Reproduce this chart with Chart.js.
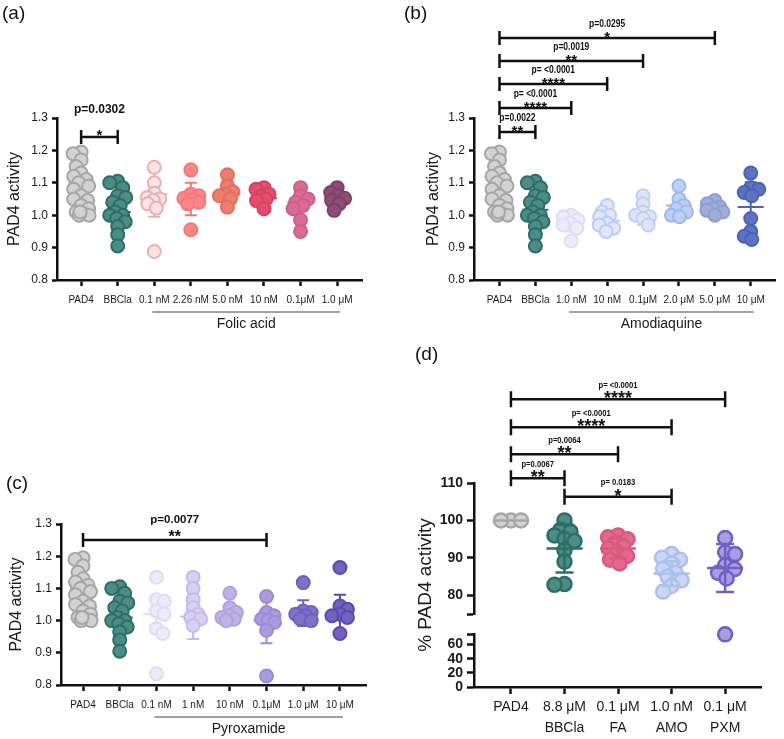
<!DOCTYPE html>
<html>
<head>
<meta charset="utf-8">
<script src="https://cdn.jsdelivr.net/npm/chart.js@4.4.1/dist/chart.umd.min.js"></script>
<style>
  body { margin: 0; background: #fff; width: 784px; height: 739px; position: relative; overflow: hidden; font-family: 'Liberation Sans', Arial, sans-serif; }
  canvas { position: absolute; }
  .lbl { position: absolute; font-size: 19px; line-height: 19px; color: #111; }
</style>
</head>
<body>
<canvas id="ca" width="392" height="340" style="left:0;top:0;width:392px;height:340px"></canvas>
<canvas id="cb" width="392" height="340" style="left:392px;top:0;width:392px;height:340px"></canvas>
<canvas id="cc" width="392" height="339" style="left:0;top:400px;width:392px;height:339px"></canvas>
<canvas id="cd" width="392" height="399" style="left:392px;top:340px;width:392px;height:399px"></canvas>
<div class="lbl" style="left:2px;top:3px">(a)</div>
<div class="lbl" style="left:404px;top:3px">(b)</div>
<div class="lbl" style="left:6px;top:473px">(c)</div>
<div class="lbl" style="left:415px;top:344px">(d)</div>
<script>
// カテゴリ
const catsA = ['PAD4', 'BBCla', '0.1 nM', '2.26 nM', '5.0 nM', '10 nM', '0.1μM', '1.0 μM'];
const catsB = ['PAD4', 'BBCla', '1.0 nM', '10 nM', '0.1μM', '2.0 μM', '5.0 μM', '10 μM'];
const catsC = ['PAD4', 'BBCla', '0.1 nM', '1 nM', '10 nM', '0.1μM', '1.0 μM', '10 μM'];
const catsD = ['PAD4', ['8.8 μM', 'BBCla'], ['0.1 μM', 'FA'], ['1.0 nM', 'AMQ'], ['0.1 μM', 'PXM']];

// 目盛り
const yTicksABC = [0.8, 0.9, 1.0, 1.1, 1.2, 1.3];
const yTicksDTop = [80, 90, 100, 110];
const yTicksDLow = [0, 20, 40, 60];
const breakD = 75;

// 値 (a)(b)(c)
const pad4Vals = [1.195, 1.19, 1.17, 1.15, 1.13, 1.12, 1.11, 1.10, 1.09, 1.08, 1.06, 1.05, 1.045, 1.03, 1.02, 1.01, 1.005, 1.0, 1.0, 1.01];
const bbclaVals = [1.105, 1.10, 1.085, 1.06, 1.055, 1.04, 1.03, 1.01, 1.0, 1.0, 0.99, 0.98, 0.965, 0.94, 0.905];
const folicVals = [
  [1.148, 1.10, 1.068, 1.055, 1.05, 1.045, 1.035, 1.022, 0.888],
  [1.14, 1.065, 1.06, 1.052, 1.048, 1.04, 1.035, 0.955],
  [1.125, 1.09, 1.072, 1.065, 1.06, 1.05, 1.025],
  [1.085, 1.08, 1.065, 1.058, 1.05, 1.045, 1.02],
  [1.085, 1.06, 1.05, 1.04, 1.03, 1.02, 0.985, 0.95],
  [1.085, 1.07, 1.06, 1.052, 1.045, 1.035, 1.015]
];
const amodiaquineVals = [
  [1.0, 0.995, 0.985, 0.975, 0.97, 0.96, 0.92],
  [1.03, 1.01, 1.0, 0.995, 0.975, 0.97, 0.96, 0.95],
  [1.06, 1.035, 1.01, 1.0, 0.995, 0.99, 0.97],
  [1.09, 1.05, 1.03, 1.02, 1.01, 1.0, 0.995],
  [1.045, 1.035, 1.025, 1.02, 1.015, 1.01, 1.0],
  [1.13, 1.085, 1.08, 1.07, 1.06, 0.99, 0.95, 0.935, 0.925]
];
const pyroxamideVals = [
  [1.135, 1.065, 1.06, 1.03, 1.02, 0.975, 0.96, 0.835],
  [1.135, 1.10, 1.065, 1.04, 1.02, 1.01, 1.005, 0.985],
  [1.085, 1.04, 1.025, 1.015, 1.01, 1.005, 1.0],
  [1.075, 1.025, 1.015, 1.005, 1.0, 0.995, 0.97, 0.828],
  [1.118, 1.03, 1.025, 1.02, 1.015, 1.005, 1.0],
  [1.165, 1.045, 1.035, 1.02, 1.015, 1.01, 0.96]
];
const meansA = [1.10, 1.01, 1.065, 1.05, 1.07, 1.052, 1.04, 1.052];
const sdsA = [0.065, 0.06, 0.07, 0.05, 0.035, 0.022, 0.045, 0.025];
const meansB = [1.08, 1.017, 0.975, 0.983, 1.0, 1.03, 1.017, 1.025];
const sdsB = [0.065, 0.06, 0.025, 0.027, 0.03, 0.032, 0.015, 0.077];
const meansC = [1.10, 1.01, 1.02, 1.013, 1.013, 1.0, 1.023, 1.02];
const sdsC = [0.065, 0.06, 0.047, 0.07, 0.028, 0.07, 0.04, 0.06];

// 値 (d) %
const pad4Pct = [100, 100, 100];
const bbclaPct = [100, 97.5, 97, 96, 95, 94.5, 92, 89, 83, 82.8];
const faPct = [96, 95.5, 95, 94, 93, 92.5, 91.5, 90.5, 89.5, 88.5];
const amqPct = [91, 90, 89.5, 88.5, 87, 86, 85, 84, 82.5, 81];
const pxmPct = [95.3, 91.5, 91, 88, 87, 86, 84.5, 74.5];
const meansD = [100, 92.5, 92.5, 85.8, 87.3];
const sdsD = [0, 6.4, 2.6, 3.3, 6.4];

// 有意差 [from, to, p, stars]
const sigA = [[0, 1, 'p=0.0302', '*']];
const sigB = [[0, 1, 'p=0.0022', '**'], [0, 2, 'p= <0.0001', '****'], [0, 3, 'p= <0.0001', '****'], [0, 4, 'p=0.0019', '**'], [0, 6, 'p=0.0295', '*']];
const sigC = [[0, 5, 'p=0.0077', '**']];
const sigD = [[0, 4, 'p= <0.0001', '****'], [0, 3, 'p= <0.0001', '****'], [0, 2, 'p=0.0064', '**'], [0, 1, 'p=0.0067', '**'], [1, 3, 'p= 0.0183', '*']];
// ブラケットの高さ (軸の単位)
const levA = [1.241];
const levB = [1.257, 1.331, 1.405, 1.476, 1.547];
const levC = [1.25];
const levD = [132.4, 124.9, 117.7, 111.3, 106.3];

// 色
const grayFill = '#d2d2d2', grayEdge = '#a6a6a6', tealFill = '#4b8d86', tealEdge = '#2d6e66';
const fillsA = [grayFill, tealFill, '#fce3e3', '#ff8686', '#ec7d6f', '#e34e6e', '#d96c93', '#8d4d75'];
const edgesA = [grayEdge, tealEdge, '#e9b0b0', '#f67878', '#e46f61', '#d94163', '#cf5e88', '#7f4169'];
const fillsB = [grayFill, tealFill, '#ececfb', '#e1e8fb', '#dfe5f8', '#bcd0f6', '#9fadda', '#5b73c1'];
const edgesB = [grayEdge, tealEdge, '#dedef6', '#bccdf5', '#c2d0f1', '#9fb9ef', '#8e9ed2', '#4b63b6'];
const fillsC = [grayFill, tealFill, '#eeeafa', '#d8d0f2', '#bfb3e6', '#ab9bde', '#8170c8', '#7262c1'];
const edgesC = [grayEdge, tealEdge, '#e0daf5', '#c6bbeb', '#b1a3df', '#9c8bd6', '#7060bf', '#5b4aae'];
const fillsD = [grayFill, tealFill, '#e3688b', '#cbd6f2', '#aa9ce3'];
const edgesD = [grayEdge, tealEdge, '#d9597f', '#adc0eb', '#7060c2'];

const FONT = "'Liberation Sans', Arial, sans-serif";
Chart.defaults.font.family = FONT;
Chart.defaults.color = '#1a1a1a';

function xAxis(cats, min, max, o) {
  return {
    type: 'linear', position: 'bottom', min: min, max: max,
    afterBuildTicks: s => { s.ticks = cats.map((c, i) => ({ value: i })); },
    afterFit: s => { s.height = o.h; },
    ticks: { callback: v => cats[Math.round(v)], autoSkip: false, maxRotation: 0, minRotation: 0, padding: o.pad, color: '#1a1a1a', font: { size: o.fs, lineHeight: o.lh || 1.2 } },
    grid: { display: true, drawOnChartArea: false, drawTicks: true, tickLength: o.tl, tickWidth: o.lw, tickColor: '#111' },
    border: { display: true, color: '#111', width: o.lw }
  };
}

function yAxis(o) {
  return {
    type: 'linear', position: 'left', min: o.min, max: o.max, weight: o.weight || 0,
    stack: o.stack, stackWeight: o.sw || 1,
    afterBuildTicks: s => { s.ticks = o.ticks.map(v => ({ value: v })); },
    afterFit: s => { s.width = o.w; },
    ticks: { callback: o.fmt, autoSkip: false, color: '#1a1a1a', padding: o.pad, font: o.font },
    grid: { display: true, drawOnChartArea: false, drawTicks: true, tickLength: o.tl, tickWidth: o.lw, tickColor: '#111' },
    border: { display: true, color: '#111', width: o.lw },
    title: o.title ? { display: true, text: o.title, color: '#1a1a1a', font: { size: o.ts }, padding: { top: 5, bottom: 0 } } : { display: false }
  };
}

// 平均線とSD
function drawStats(chart, cfg) {
  const ctx = chart.ctx, xs = chart.scales.x, ys = chart.scales[cfg.yId];
  ctx.save();
  ctx.lineWidth = cfg.statLw;
  cfg.means.forEach((m, i) => {
    const x = xs.getPixelForValue(i), y = ys.getPixelForValue(m);
    const y1 = ys.getPixelForValue(m + cfg.sds[i]), y2 = ys.getPixelForValue(m - cfg.sds[i]);
    ctx.strokeStyle = cfg.edges[i];
    ctx.beginPath();
    ctx.moveTo(x - cfg.half, y); ctx.lineTo(x + cfg.half, y);
    if (cfg.sds[i] > 0) {
      ctx.moveTo(x, y1); ctx.lineTo(x, y2);
      ctx.moveTo(x - cfg.cap, y1); ctx.lineTo(x + cfg.cap, y1);
      ctx.moveTo(x - cfg.cap, y2); ctx.lineTo(x + cfg.cap, y2);
    }
    ctx.stroke();
  });
  ctx.restore();
}

// 有意差ブラケット
function drawSig(chart, cfg) {
  const ctx = chart.ctx, xs = chart.scales.x, ys = chart.scales[cfg.yId];
  const s = cfg.sigStyle;
  cfg.sig.forEach((b, k) => {
    const x1 = xs.getPixelForValue(b[0]), x2 = xs.getPixelForValue(b[1]);
    const y = ys.getPixelForValue(cfg.levels[k]);
    const cx = (x1 + x2) / 2;
    ctx.save();
    ctx.strokeStyle = '#111';
    ctx.lineWidth = 2.5;
    ctx.beginPath();
    ctx.moveTo(x1, y); ctx.lineTo(x2, y);
    ctx.moveTo(x1, y - s.tick); ctx.lineTo(x1, y + s.tick);
    ctx.moveTo(x2, y - s.tick); ctx.lineTo(x2, y + s.tick);
    ctx.stroke();
    ctx.fillStyle = '#111';
    ctx.textAlign = 'center';
    ctx.textBaseline = 'middle';
    ctx.font = 'bold ' + s.pSize + 'px ' + FONT;
    ctx.translate(cx, y - s.pOff);
    ctx.scale(s.squeeze, 1);
    ctx.fillText(b[2], 0, 0);
    ctx.restore();
    ctx.save();
    ctx.fillStyle = '#111';
    ctx.textAlign = 'center';
    ctx.textBaseline = 'alphabetic';
    ctx.font = 'bold ' + s.starSize + 'px ' + FONT;
    ctx.fillText(b[3], cx, y + s.starOff);
    ctx.restore();
  });
}

// 薬剤名の下線
function drawGroup(chart, cfg) {
  if (!cfg.group) return;
  const ctx = chart.ctx, xs = chart.scales.x, yb = chart.chartArea.bottom;
  const x1 = xs.getPixelForValue(cfg.group[1]) - 2, x2 = xs.getPixelForValue(cfg.group[2]) + 3;
  ctx.save();
  ctx.strokeStyle = '#444';
  ctx.lineWidth = 1.2;
  ctx.beginPath();
  ctx.moveTo(x1, yb + 32); ctx.lineTo(x2, yb + 32);
  ctx.stroke();
  ctx.fillStyle = '#1a1a1a';
  ctx.font = '14px ' + FONT;
  ctx.textAlign = 'center';
  ctx.textBaseline = 'middle';
  ctx.fillText(cfg.group[0], (x1 + x2) / 2, yb + 44);
  ctx.restore();
}

function decor(cfg) {
  return {
    id: 'decor',
    beforeDatasetsDraw(chart) { if (!cfg.statsOnTop) drawStats(chart, cfg); },
    afterDatasetsDraw(chart) { if (cfg.statsOnTop) drawStats(chart, cfg); },
    afterDraw(chart) { drawSig(chart, cfg); drawGroup(chart, cfg); }
  };
}

// 点を横へずらす (幅は maxOff まで、入らなければ一番空いている所)
function swarm(chart, minDist, maxOff) {
  const xs = chart.scales.x;
  const unit = xs.getPixelForValue(1) - xs.getPixelForValue(0);
  chart.data.datasets.forEach(ds => {
    const ys = chart.scales[ds.yAxisID];
    const placed = [];
    ds.data.forEach((p, n) => {
      const py = ys.getPixelForValue(p.y);
      const side = n % 2 ? -1 : 1;
      let best = 0, bestD = -1;
      for (let k = 0; k <= maxOff * 4; k++) {
        const c = (k % 2 ? side : -side) * Math.ceil(k / 2) * 0.5;
        const d = placed.length ? Math.min(...placed.map(q => Math.hypot(q[0] - c, q[1] - py))) : Infinity;
        if (d >= minDist) { best = c; break; }
        if (d > bestD + 0.5) { bestD = d; best = c; }
      }
      placed.push([best, py]);
      p.x = ds.group + best / unit;
    });
  });
  chart.update('none');
}

function panel(id, cfg) {
  const datasets = [];
  cfg.groups.forEach((vals, i) => {
    const parts = cfg.breakAt
      ? [[vals.filter(v => v >= cfg.breakAt), cfg.yId], [vals.filter(v => v < cfg.breakAt), 'yLow']]
      : [[vals, cfg.yId]];
    parts.forEach(([vs, axis]) => {
      if (!vs.length) return;
      datasets.push({
        data: vs.map(v => ({ x: i, y: v })),
        yAxisID: axis,
        group: i,
        pointBackgroundColor: cfg.fills[i],
        pointBorderColor: cfg.edges[i],
        pointRadius: cfg.r,
        pointHoverRadius: cfg.r,
        pointBorderWidth: cfg.bw,
        clip: false
      });
    });
  });
  const chart = new Chart(document.getElementById(id), {
    type: 'scatter',
    data: { datasets: datasets },
    options: {
      responsive: false,
      animation: false,
      events: [],
      layout: { padding: cfg.pad },
      plugins: { legend: { display: false }, tooltip: { enabled: false } },
      scales: cfg.scales
    },
    plugins: [decor(cfg)]
  });
  swarm(chart, cfg.minDist, cfg.maxOff);
  return chart;
}

const fmt1 = v => v.toFixed(1);
const smallFont = { size: 12 };
const xOptsABC = { h: 30, pad: 8, fs: 10, tl: 6, lw: 2.5 };

panel('ca', {
  groups: [pad4Vals, bbclaVals].concat(folicVals),
  fills: fillsA, edges: edgesA, means: meansA, sds: sdsA,
  sig: sigA, levels: levA, group: ['Folic acid', 2, 7],
  sigStyle: { tick: 7, pSize: 12, squeeze: 1, pOff: 27, starSize: 15, starOff: 3 },
  yId: 'y', r: 6.5, bw: 2, minDist: 8, maxOff: 8, half: 13, cap: 6, statLw: 2, statsOnTop: false,
  pad: { left: 0, right: 30, top: 118, bottom: 30 },
  scales: {
    x: xAxis(catsA, -0.66, 7.68, xOptsABC),
    y: yAxis({ min: 0.8, max: 1.3, ticks: yTicksABC, fmt: fmt1, w: 57, pad: 4, font: smallFont, tl: 5, lw: 2.5, title: 'PAD4 activity', ts: 16 })
  }
});

panel('cb', {
  groups: [pad4Vals, bbclaVals].concat(amodiaquineVals),
  fills: fillsB, edges: edgesB, means: meansB, sds: sdsB,
  sig: sigB, levels: levB, group: ['Amodiaquine', 2, 7],
  sigStyle: { tick: 7, pSize: 10, squeeze: 0.85, pOff: 14, starSize: 15, starOff: 4 },
  yId: 'y', r: 6.5, bw: 2, minDist: 8, maxOff: 8, half: 13, cap: 6, statLw: 2, statsOnTop: false,
  pad: { left: 27, right: 4, top: 118, bottom: 30 },
  scales: {
    x: xAxis(catsB, -0.71, 7.69, xOptsABC),
    y: yAxis({ min: 0.8, max: 1.3, ticks: yTicksABC, fmt: fmt1, w: 55, pad: 4, font: smallFont, tl: 5, lw: 2.5, title: 'PAD4 activity', ts: 16 })
  }
});

panel('cc', {
  groups: [pad4Vals, bbclaVals].concat(pyroxamideVals),
  fills: fillsC, edges: edgesC, means: meansC, sds: sdsC,
  sig: sigC, levels: levC, group: ['Pyroxamide', 2, 7],
  sigStyle: { tick: 7, pSize: 11.5, squeeze: 1, pOff: 20, starSize: 16, starOff: 2 },
  yId: 'y', r: 6.5, bw: 2, minDist: 8, maxOff: 8, half: 13, cap: 6, statLw: 2, statsOnTop: false,
  pad: { left: 2, right: 26, top: 124, bottom: 24 },
  scales: {
    x: xAxis(catsC, -0.6, 7.71, xOptsABC),
    y: yAxis({ min: 0.8, max: 1.3, ticks: yTicksABC, fmt: fmt1, w: 59, pad: 4, font: smallFont, tl: 5, lw: 2.5, title: 'PAD4 activity', ts: 16 })
  }
});

const boldFont = { size: 14, weight: 'bold' };
const hideBreak = v => (v === breakD ? '' : v);
panel('cd', {
  groups: [pad4Pct, bbclaPct, faPct, amqPct, pxmPct],
  fills: fillsD, edges: edgesD, means: meansD, sds: sdsD,
  sig: sigD, levels: levD, group: null, breakAt: breakD,
  sigStyle: { tick: 8, pSize: 9, squeeze: 0.85, pOff: 14, starSize: 18, starOff: 5 },
  yId: 'yTop', r: 7, bw: 2.5, minDist: 10, maxOff: 10, half: 18, cap: 9, statLw: 2.5, statsOnTop: true,
  pad: { left: 17, right: 23, top: 143, bottom: 7 },
  scales: {
    x: xAxis(catsD, -0.69, 4.67, { h: 45, pad: 3, fs: 14, lh: 1.5, tl: 7, lw: 2.5 }),
    yTitle: {
      type: 'linear', position: 'left', min: 0, max: 1, weight: 10,
      afterFit: s => { s.width = 28; },
      ticks: { display: false }, grid: { display: false }, border: { display: false },
      title: { display: true, text: '% PAD4 activity', color: '#1a1a1a', font: { size: 19 }, padding: { top: 5, bottom: 0 } }
    },
    yTop: yAxis({ min: breakD, max: 110, ticks: [breakD].concat(yTicksDTop), fmt: hideBreak, w: 37, pad: 4, font: boldFont, tl: 7, lw: 2.5, weight: 3, stack: 'd', sw: 131 }),
    yGap: {
      type: 'linear', position: 'left', min: 0, max: 1, weight: 2, stack: 'd', stackWeight: 20,
      afterFit: s => { s.width = 37; },
      ticks: { display: false }, grid: { display: false }, border: { display: false }
    },
    yLow: yAxis({ min: 0, max: breakD, ticks: yTicksDLow.concat([breakD]), fmt: hideBreak, w: 37, pad: 4, font: boldFont, tl: 7, lw: 2.5, weight: 1, stack: 'd', sw: 53 })
  }
});
</script>
</body>
</html>
